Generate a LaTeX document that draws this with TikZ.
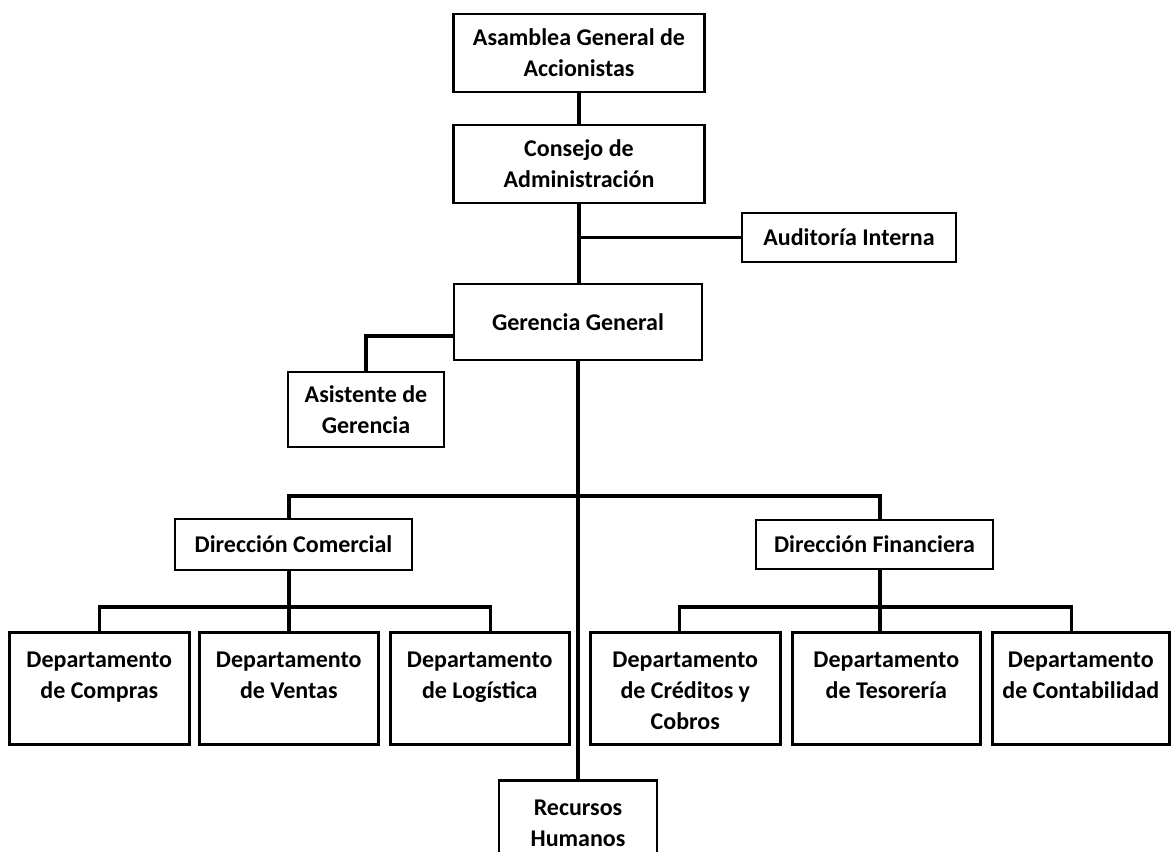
\documentclass[tikz,border=0pt]{standalone}
\usepackage{fontspec}
\setmainfont{Carlito}
\tikzset{
  unitbox/.style={draw, line width=2.6pt, inner sep=0pt, align=flush center,
    font=\bfseries\fontsize{24}{31}\selectfont},
  deptbox/.style={unitbox, text width=#1, text height=35pt, text depth=77pt, anchor=north west},
  link/.style={line width=3.6pt},
}
\begin{document}
\begin{tikzpicture}[x=1pt, y=-1pt]
\path[use as bounding box, fill=white] (0,0) rectangle (1172,851);
\clip (0,0) rectangle (1172,851);

% upper levels
\node[unitbox, minimum width=251pt, minimum height=78pt] (asamblea) at (579,53) {Asamblea General de\\Accionistas};
\node[unitbox, minimum width=251pt, minimum height=78pt] (consejo) at (579,164) {Consejo de\\Administración};
\node[unitbox, minimum width=214pt, minimum height=49pt] (auditoria) at (849,237.5) {Auditoría Interna};
\node[unitbox, minimum width=248pt, minimum height=76pt] (gerencia) at (578,322) {Gerencia General};
\node[unitbox, minimum width=156pt, minimum height=75pt] (asistente) at (366,409.5) {Asistente de\\Gerencia};

% directions
\node[unitbox, minimum width=237pt, minimum height=51pt] (comercial) at (293.5,544.5) {Dirección Comercial};
\node[unitbox, minimum width=237pt, minimum height=49pt] (financiera) at (874.5,544.5) {Dirección Financiera};

% departments
\node[deptbox=180pt] (compras) at (8,631) {Departamento\\de Compras};
\node[deptbox=179pt] (ventas) at (198,631) {Departamento\\de Ventas};
\node[deptbox=179pt] (logistica) at (389,631) {Departamento\\de Logística};
\node[deptbox=190pt] (creditos) at (589,631) {Departamento\\de Créditos y\\Cobros};
\node[deptbox=188pt] (tesoreria) at (791,631) {Departamento\\de Tesorería};
\node[deptbox=177pt] (contabilidad) at (991,631) {Departamento\\de Contabilidad};

% human resources
\node[unitbox, text width=158pt, text height=35pt, text depth=80pt, anchor=north] (rh) at (578,779) {Recursos\\Humanos};

% bus points
\coordinate (gbus) at (578,496);
\coordinate (cbus) at (289,607);
\coordinate (fbus) at (880,607);

% connectors
\draw[link] (asamblea.south) -- (consejo.north);
\draw[link] (consejo.south) -- (consejo.south |- gerencia.north);
\coordinate (aud) at (consejo.south |- auditoria.west);
\draw[link] (aud) -- (auditoria.west);
\draw[link] ([yshift=-14pt]gerencia.west) -| (asistente.north);
\draw[link] (gerencia.south) -- (rh.north);
\draw[link] ([xshift=-4.5pt]comercial.north) |- (gbus) -| ([xshift=5.5pt]financiera.north);
\draw[link] ([xshift=-4.5pt]comercial.south) -- (cbus);
\draw[link] (compras.north) |- (cbus) -| ([xshift=10.5pt]logistica.north);
\draw[link] (cbus) -- (cbus |- ventas.north);
\draw[link] ([xshift=5.5pt]financiera.south) -- (fbus);
\draw[link] ([xshift=-6pt]creditos.north) |- (fbus) -| ([xshift=-9.5pt]contabilidad.north);
\draw[link] (fbus) -- (fbus |- tesoreria.north);
\end{tikzpicture}
\end{document}
